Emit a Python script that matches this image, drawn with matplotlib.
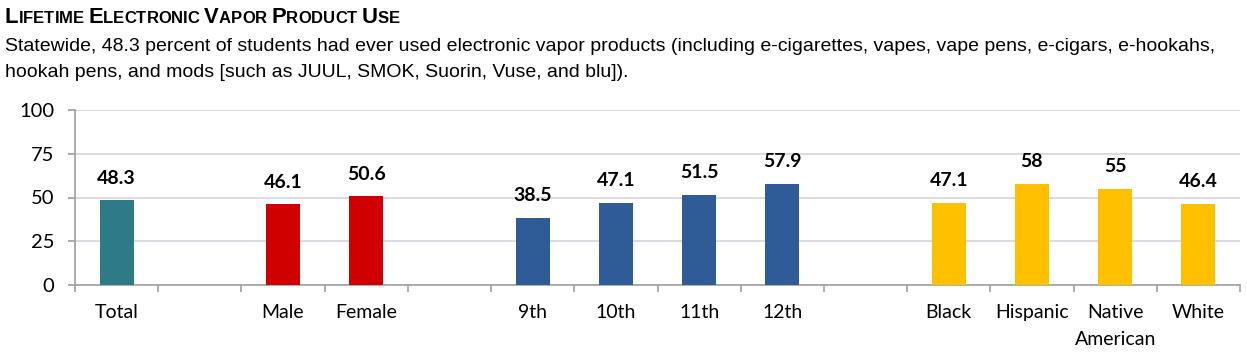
import matplotlib
matplotlib.use('Agg')
import matplotlib.pyplot as plt
import numpy as np

# --- data ---
labels = ['Total', '', 'Male', 'Female', '', '9th', '10th', '11th', '12th', '',
          'Black', 'Hispanic', 'Native\nAmerican', 'White']
values = [48.3, None, 46.1, 50.6, None, 38.5, 47.1, 51.5, 57.9, None,
          47.1, 58, 55, 46.4]
value_text = ['48.3', '', '46.1', '50.6', '', '38.5', '47.1', '51.5', '57.9', '',
              '47.1', '58', '55', '46.4']
colors = ['#2E7B87', None, '#D00000', '#D00000', None, '#2F5C96', '#2F5C96',
          '#2F5C96', '#2F5C96', None, '#FFC000', '#FFC000', '#FFC000', '#FFC000']
yticks = [0, 25, 50, 75, 100]

title = 'Lifetime Electronic Vapor Product Use'
sub1 = ('Statewide, 48.3 percent of students had ever used electronic vapor products '
        '(including e-cigarettes, vapes, vape pens, e-cigars, e-hookahs,')
sub2 = 'hookah pens, and mods [such as JUUL, SMOK, Suorin, Vuse, and blu]).'

W, H = 1247, 364
fig = plt.figure(figsize=(W / 100, H / 100), dpi=100)
ax = fig.add_axes([75 / W, 1 - 285 / H, (1240 - 75) / W, 175 / H])

tick_font = ['Lato', 'DejaVu Sans']
x = np.arange(len(labels))
for i, v in enumerate(values):
    if v is None:
        continue
    ax.bar(x[i], v, width=0.41, color=colors[i], zorder=3)
    ax.annotate(value_text[i], (x[i], v), xytext=(0, 16), textcoords='offset points',
                ha='center', va='center', fontsize=14, fontweight='bold',
                family=tick_font, color='black')

ax.set_xlim(-0.5, len(labels) - 0.5)
ax.set_ylim(0, 100)
ax.set_yticks(yticks)
ax.set_yticklabels([str(t) for t in yticks], fontsize=14.5, family=tick_font)
ax.grid(axis='y', color='#D8D2DE', linewidth=1.2, zorder=0)
ax.set_axisbelow(True)

# slot boundaries as ticks, labels centered in each slot
ax.set_xticks(np.arange(len(labels) + 1) - 0.5)
ax.set_xticklabels([])
ax.set_xticks(x, minor=True)
ax.set_xticklabels(labels, minor=True, fontsize=14, family=tick_font, va='top',
                   linespacing=1.7)
ax.tick_params(axis='x', which='minor', length=0, pad=14)
ax.tick_params(axis='x', which='major', length=5, color='#A0A0A0', width=1.2)
ax.tick_params(axis='y', length=5, color='#A0A0A0', width=1.2, pad=10)

for s in ['top', 'right']:
    ax.spines[s].set_visible(False)
for s in ['left', 'bottom']:
    ax.spines[s].set_color('#A0A0A0')
    ax.spines[s].set_linewidth(1.2)

# small-caps title built from pieces
renderer = fig.canvas.get_renderer()
title_font = ['Liberation Sans', 'DejaVu Sans']
xpos = 5 / W
ybase = 1 - 23 / H
for w_i, word in enumerate(title.split(' ')):
    if w_i > 0:
        xpos += 4.5 / W
    for ch in word:
        big = ch.isupper()
        t = fig.text(xpos, ybase, ch.upper(), fontsize=15.8 if big else 12.0,
                     fontweight='bold', family=title_font, va='baseline', ha='left')
        bb = t.get_window_extent(renderer=renderer)
        xpos += bb.width / W

sub_font = ['Liberation Sans', 'DejaVu Sans']
fig.text(5 / W, 1 - 51 / H, sub1, fontsize=14, family=sub_font, va='baseline')
fig.text(5 / W, 1 - 77 / H, sub2, fontsize=14, family=sub_font, va='baseline')

fig.savefig('out.png', dpi=100)
